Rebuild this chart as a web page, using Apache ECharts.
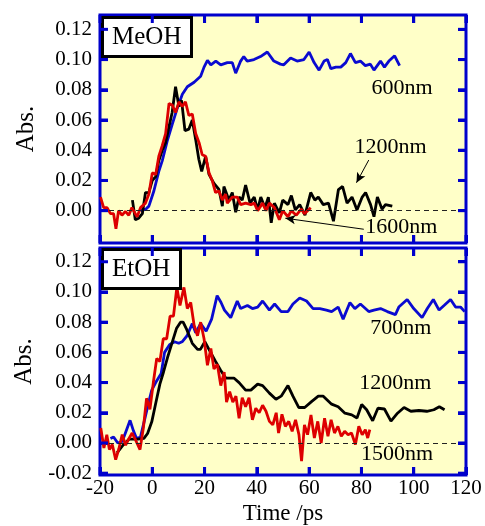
<!DOCTYPE html>
<html><head><meta charset="utf-8">
<script src="https://cdn.jsdelivr.net/npm/echarts@6/dist/echarts.min.js"></script>
<style>html,body{margin:0;padding:0;background:#fff}#c{width:485px;height:526px}</style>
</head><body><div id="c"></div>
<script>
// ---- data (time / ps, Abs.) ----
const meoh600 = [[-4.5,0],[-2.5,0.001],[-1.3,0.003],[0.6,0.013],[2.5,0.026],[3.8,0.033],[5.7,0.046],[7.6,0.057],[9.6,0.068],[11.5,0.077],[13.4,0.082],[16,0.085],[18.5,0.089],[19.8,0.095],[21.1,0.0995],[22.4,0.0965],[24.3,0.099],[26.2,0.0965],[28.7,0.098],[30.6,0.098],[31.9,0.091],[33.8,0.099],[35.0,0.102],[36.3,0.099],[38.9,0.100],[41.4,0.102],[44.0,0.105],[46.5,0.099],[49.0,0.097],[50.3,0.0965],[52.9,0.101],[55.4,0.099],[58.0,0.100],[60.0,0.105],[61.9,0.098],[63.8,0.093],[65.7,0.099],[67.0,0.100],[68.3,0.094],[70.2,0.095],[72.1,0.095],[74.0,0.098],[75.8,0.104],[77.7,0.098],[79.6,0.099],[81.5,0.096],[83.4,0.097],[84.8,0.093],[87.3,0.099],[88.8,0.095],[90.5,0.099],[92.7,0.1025],[94.6,0.096]];
const meoh1200 = [[-7.6,0.007],[-6.5,-0.006],[-5.2,-0.005],[-3.8,-0.002],[-2.6,0.012],[-1.3,0.012],[0,0.020],[1.3,0.0225],[2.5,0.033],[3.8,0.040],[5.1,0.045],[6.4,0.0556],[7.6,0.065],[8.9,0.082],[10.2,0.069],[11.2,0.073],[12.5,0.053],[14.0,0.054],[15.3,0.060],[16.6,0.047],[17.8,0.034],[18.9,0.026],[20.4,0.036],[21.7,0.024],[23.6,0.018],[25.5,0.014],[26.8,0.003],[27.4,0.016],[29.3,0.007],[30.6,0.012],[31.9,-0.001],[33.2,0.009],[34.4,0.007],[35.7,0.017],[37.4,0.005],[39.0,0.009],[40.3,0.0005],[41.5,0.009],[43.1,0.002],[44.4,0.009],[45.5,-0.008],[46.7,0.005],[48.6,-0.0015],[49.9,0.007],[51.9,0.004],[53.2,0.010],[54.7,0.0005],[56.4,0.004],[58.4,-0.003],[60.6,0.012],[62.2,0.007],[63.5,0.009],[65.4,0.004],[67.4,0.005],[69.3,-0.007],[71.2,0.014],[72.8,0.016],[74.5,0.005],[76.4,0.009],[78.3,0.0005],[80.3,0.009],[81.6,0.012],[83.5,0.004],[84.8,-0.004],[86.1,0.009],[87.9,0.001],[89.2,0.004],[91.8,0.003]];
const meoh1600 = [[-19.8,0.009],[-18.6,0.002],[-17.3,0.002],[-16,-0.002],[-14.8,-0.002],[-13.9,-0.012],[-12.9,0],[-11.6,-0.003],[-10.3,-0.0005],[-9,-0.003],[-7.8,0.002],[-6.5,-0.002],[-5.8,-0.004],[-4.5,0.002],[-2.6,0.005],[-1.3,0.011],[0,0.025],[1.3,0.024],[2.5,0.036],[3.8,0.043],[5.1,0.051],[6.4,0.071],[7.6,0.070],[8.9,0.065],[10.2,0.072],[11.5,0.069],[12.7,0.072],[14,0.063],[15.3,0.064],[16.6,0.051],[17.9,0.045],[19.1,0.037],[20.4,0.036],[21.7,0.025],[22.9,0.020],[24.2,0.012],[25.5,0.013],[26.8,0.007],[28,0.011],[28.7,0.005],[30.6,0.009],[32.5,0.009],[33.8,0.004],[35.7,0.005],[37.7,0.004],[39,0.005],[40.3,0],[42.2,0.005],[43.5,0],[44.8,0.005],[46.7,0.002],[48.6,-0.006],[49.9,0],[51.9,-0.004],[53.2,0],[55.1,-0.003],[57,0.001],[58.2,-0.002],[60.6,0.002]];
const etoh700 = [[-16,0.003],[-14.8,0.004],[-13.2,0],[-11.5,0.001],[-10,0.008],[-8.5,0.015],[-7.2,0.008],[-6,0.003],[-4.5,0.004],[-3,0.015],[-1.5,0.026],[-0.2,0.035],[1.3,0.040],[3.4,0.046],[4.7,0.060],[6.6,0.065],[8.5,0.067],[10.1,0.066],[11.4,0.067],[13.3,0.071],[15.3,0.079],[16.6,0.073],[18.5,0.079],[20.6,0.074],[22.7,0.082],[24.8,0.0976],[26.3,0.093],[27.6,0.088],[30,0.083],[32.5,0.094],[33.8,0.089],[36.4,0.091],[38.3,0.089],[40.3,0.090],[42.2,0.094],[44.8,0.088],[46.8,0.092],[49.3,0.087],[51.9,0.087],[53.8,0.092],[56.4,0.096],[59,0.094],[61.5,0.089],[64.1,0.089],[66.6,0.088],[68.6,0.087],[71.1,0.090],[73,0.082],[75.6,0.093],[77.5,0.089],[79.6,0.092],[82.8,0.087],[84.8,0.088],[87.3,0.089],[89.9,0.087],[93,0.085],[94.3,0.090],[97.5,0.095],[100,0.089],[103.2,0.083],[105.2,0.089],[107.5,0.095],[109.7,0.088],[111.6,0.091],[114.1,0.095],[116,0.090],[117.9,0.090],[119.5,0.087]];
const etoh1200 = [[-13.5,-0.0066],[-11.2,-0.0015],[-8.9,0.0025],[-5.5,0.0025],[-3.2,0.003],[-1.8,0.0063],[-0.2,0.014],[1.4,0.027],[2.9,0.039],[4.3,0.047],[5.9,0.057],[7.5,0.066],[9.3,0.076],[10.8,0.080],[11.8,0.080],[13.2,0.075],[15.3,0.066],[17.3,0.062],[18.4,0.062],[20.1,0.067],[22.3,0.060],[24.2,0.054],[26.2,0.048],[28.1,0.043],[31.2,0.043],[33.2,0.040],[35.7,0.035],[37.7,0.035],[40.3,0.039],[42.2,0.038],[44.8,0.033],[47.3,0.029],[49.3,0.031],[51.9,0.038],[53.8,0.031],[56,0.0235],[58.3,0.0235],[60.9,0.0274],[63.5,0.031],[65.4,0.031],[68.6,0.0257],[71.1,0.024],[73.7,0.0197],[76.3,0.0186],[78.3,0.0165],[80.1,0.0255],[82,0.022],[84.3,0.0147],[86.3,0.023],[88.8,0.0225],[91.3,0.0145],[93.8,0.0197],[96.3,0.0235],[98.9,0.021],[102,0.0215],[105,0.021],[107.7,0.022],[109.8,0.024],[111.8,0.022]];
const etoh1500 = [[-19.7,0.0099],[-18.5,-0.0033],[-17.4,0.0055],[-16.4,-0.0044],[-15.3,-0.001],[-14,-0.011],[-12.8,-0.004],[-11.5,0.0055],[-10.2,-0.0015],[-8.9,0.003],[-7.7,0.0066],[-6.4,0.002],[-4.7,-0.0044],[-3.4,0.010],[-2.2,0.0296],[-0.9,0.0223],[0.4,0.040],[1.7,0.056],[2.9,0.054],[4.2,0.069],[5.5,0.069],[6.8,0.084],[8.1,0.084],[9.4,0.103],[10.6,0.091],[12.1,0.103],[13.4,0.089],[14.7,0.093],[16,0.078],[17.3,0.071],[18.5,0.080],[19.8,0.069],[21.1,0.0515],[22.4,0.0625],[23.6,0.049],[24.9,0.052],[26.2,0.038],[27.5,0.047],[28.4,0.027],[29.6,0.034],[30.8,0.027],[32,0.031],[33.2,0.0164],[34.4,0.030],[35.7,0.024],[37,0.030],[38.3,0.0153],[39.6,0.023],[40.9,0.020],[42.2,0.025],[43.5,0.021],[44.8,0.0143],[46.1,0.012],[47.4,0.020],[48.3,0.0066],[49.6,0.019],[50.9,0.011],[52.2,0.0143],[53.5,0.0077],[54.8,0.0153],[56.1,0.0055],[57.1,-0.012],[58.2,0.012],[59.4,0.0055],[60.7,0.0186],[62,0.0033],[63.3,0.0143],[64.6,0],[65.9,0.0164],[67.2,0.0044],[68.4,0.0153],[69.7,0.0066],[71,0.011],[72.3,0.0044],[73.6,0.0077],[74.9,0.0055],[76.2,0.0066],[77.7,-0.001],[79,0.011],[80.3,0.0055],[81.5,0.0088],[82.4,0.0033],[83.2,0.0088]];

const topTicks = [0, 0.02, 0.04, 0.06, 0.08, 0.10, 0.12];
const botTicks = [-0.02, 0, 0.02, 0.04, 0.06, 0.08, 0.10, 0.12];
const xTickLabels = [-20, 0, 20, 40, 60, 80, 100, 120];

// annotation labels [text, time, abs]
const topNotes = [['600nm', 95.5, 0.0812], ['1200nm', 91.1, 0.0421], ['1600nm', 95.3, -0.0108]];
const botNotes = [['700nm', 95.1, 0.0761], ['1200nm', 93.0, 0.0394], ['1500nm', 93.6, -0.0072]];
// arrows [fromTime, fromAbs, toTime, toAbs]
const topArrows = [[82.8, 0.0335, 78.1, 0.0185], [80.9, -0.0123, 50.9, -0.005]];

const FONT = '"Liberation Serif", "Times New Roman", serif';
const BLUE = '#0000cc';
const LBLUE = '#0a0ad0';
const RED = '#dd0000';
const BG = '#ffffc8';
const TICK_PX = 8;

const grids = [
  {left: 100, top: 15, width: 366, height: 228},
  {left: 100, top: 248, width: 366, height: 229}
];
const yRanges = [[-0.0214, 0.1295], [-0.0212, 0.1291]];
const xMin = xTickLabels[0], xMax = xTickLabels[xTickLabels.length - 1];

function xAx(gi, pos, labels) {
  return {
    type: 'value', gridIndex: gi, position: pos, min: xMin, max: xMax, interval: 20,
    axisLine: {show: false, onZero: false},
    axisTick: {show: true, inside: true, length: TICK_PX, lineStyle: {color: BLUE, width: 3}},
    axisLabel: {show: labels, color: '#000', fontFamily: FONT, fontSize: 21, margin: 3},
    splitLine: {show: false},
    name: labels ? 'Time /ps' : '', nameLocation: 'middle', nameGap: 27,
    nameTextStyle: {color: '#000', fontFamily: FONT, fontSize: 23}
  };
}
function yAx(gi, pos, labels, ticks) {
  return {
    type: 'value', gridIndex: gi, position: pos, min: yRanges[gi][0], max: yRanges[gi][1],
    axisLine: {show: false, onZero: false},
    axisTick: {show: true, inside: true, length: TICK_PX, customValues: ticks, lineStyle: {color: BLUE, width: 3}},
    axisLabel: {show: labels, color: '#000', fontFamily: FONT, fontSize: 21, margin: 8, customValues: ticks,
      formatter: v => v.toFixed(2)},
    splitLine: {show: false},
    name: labels ? 'Abs.' : '', nameLocation: 'middle', nameGap: 61,
    nameTextStyle: {color: '#000', fontFamily: FONT, fontSize: 25}
  };
}
function line(data, color, xi, yi, extra) {
  return Object.assign({
    type: 'line', data: data, xAxisIndex: xi, yAxisIndex: yi, showSymbol: false, symbol: 'none',
    lineStyle: {color: color, width: 2.8}, itemStyle: {color: color}, animation: false
  }, extra || {});
}
function baseLine(v) {
  return {silent: true, symbol: 'none', animation: false, label: {show: false},
    lineStyle: {color: '#222', width: 1, type: [5, 4]}, data: [{yAxis: v}]};
}
const arrowMark = {
  silent: true, animation: false, label: {show: false}, symbolSize: [7, 10],
  lineStyle: {color: '#000', width: 1, type: 'solid'},
  data: topArrows.map(a => [{coord: [a[0], a[1]], symbol: 'none'}, {coord: [a[2], a[3]], symbol: 'arrow'}])
};

const chart = echarts.init(document.getElementById('c'));
const boxStyle = {backgroundColor: '#fff', borderColor: '#000', borderWidth: 3, padding: [8, 10, 7, 10],
  textStyle: {fontFamily: FONT, fontSize: 25, fontWeight: 'normal', color: '#000'}};
chart.setOption({
  animation: false,
  backgroundColor: '#fff',
  title: [
    Object.assign({text: 'MeOH', left: 102, top: 17}, boxStyle),
    Object.assign({text: 'EtOH', left: 102, top: 249}, boxStyle)
  ],
  grid: grids.map(g => Object.assign({show: true, backgroundColor: BG, borderColor: BLUE, borderWidth: 3}, g)),
  xAxis: [xAx(0, 'bottom', false), xAx(0, 'top', false), xAx(1, 'bottom', true), xAx(1, 'top', false)],
  yAxis: [yAx(0, 'left', true, topTicks), yAx(0, 'right', false, topTicks), yAx(1, 'left', true, botTicks), yAx(1, 'right', false, botTicks)],
  series: [
    line(meoh600, LBLUE, 0, 0),
    line(meoh1200, '#000', 0, 0, {markLine: baseLine(0.001)}),
    line(meoh1600, RED, 0, 0, {markLine: arrowMark}),
    line(etoh700, LBLUE, 2, 2),
    line(etoh1200, '#000', 2, 2, {markLine: baseLine(0)}),
    line(etoh1500, RED, 2, 2)
  ]
});

function noteEls(notes, xi, yi) {
  return notes.map(n => {
    const p = chart.convertToPixel({xAxisIndex: xi, yAxisIndex: yi}, [n[1], n[2]]);
    return {type: 'text', z: 100, style: {text: n[0], x: p[0], y: p[1], fill: '#000',
      font: '22px ' + FONT, align: 'center', verticalAlign: 'middle', textAlign: 'center', textVerticalAlign: 'middle'}};
  });
}
// inward tick marks on all four frame sides as small filled rects, placed through the axes' scales
function tickEls(xi, yi, gi, yTicks) {
  const yr = yRanges[gi];
  const P = (x, y) => chart.convertToPixel({xAxisIndex: xi, yAxisIndex: yi}, [x, y]);
  const tl = P(xMin, yr[1]), br = P(xMax, yr[0]);
  const els = [];
  const rect = (x, y, w, h) => ({type: 'rect', z: 100, silent: true, shape: {x: x, y: y, width: w, height: h}, style: {fill: BLUE}});
  xTickLabels.forEach(v => {
    const px = P(v, yr[0])[0];
    els.push(rect(px - 1.5, br[1] - TICK_PX, 3, TICK_PX));
    els.push(rect(px - 1.5, tl[1], 3, TICK_PX));
  });
  yTicks.forEach(v => {
    const py = P(xMin, v)[1];
    els.push(rect(tl[0], py - 1.5, TICK_PX, 3));
    els.push(rect(br[0] - TICK_PX, py - 1.5, TICK_PX, 3));
  });
  return els;
}
chart.setOption({graphic: {elements: noteEls(topNotes, 0, 0).concat(noteEls(botNotes, 2, 2))
  .concat(tickEls(0, 0, 0, topTicks)).concat(tickEls(2, 2, 1, botTicks))}});
</script>
</body></html>
